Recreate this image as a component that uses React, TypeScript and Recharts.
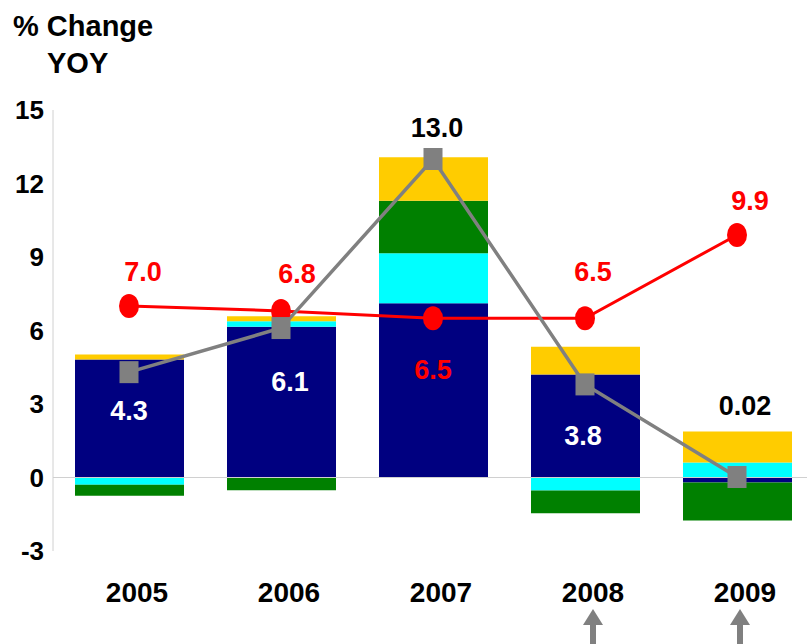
import {
  ComposedChart,
  Bar,
  Line,
  XAxis,
  YAxis,
  ReferenceLine,
  LabelList,
} from "recharts";

// ─── Data ──────────────────────────────────────────────────

const years = ["2005", "2006", "2007", "2008", "2009"];

// stacked components (stackOffset="sign": positives up, negatives down)
const navyPart = [4.82, 6.15, 7.11, 4.2, -0.2];
const cyanPart = [-0.3, 0.23, 2.04, -0.53, 0.61];
const greenPart = [-0.44, -0.52, 2.15, -0.93, -1.55];
const goldPart = [0.2, 0.2, 1.77, 1.14, 1.27];

// lines
const totalChange = [4.3, 6.1, 13.0, 3.8, 0.02];
const redSeries = [7.0, 6.8, 6.5, 6.5, 9.9];

const yTicks = [-3, 0, 3, 6, 9, 12, 15];

// label placement relative to the marker
const totalLabelOffset = [
  [0, 39],
  [9, 54],
  [4, -31],
  [-2, 52],
  [8, -71],
];
const totalLabelColor = ["#FFFFFF", "#FFFFFF", "#000000", "#FFFFFF", "#000000"];
const redLabelOffset = [
  [14, -34],
  [16, -37],
  [0, 52],
  [8, -46],
  [13, -34],
];
const arrowDx: Record<number, number> = { 3: 8, 4: 3 };

const data = years.map((year, i) => ({
  year,
  navy: navyPart[i],
  cyan: cyanPart[i],
  green: greenPart[i],
  gold: goldPart[i],
  total: totalChange[i],
  red: redSeries[i],
}));

const FONT = "'Liberation Sans', Arial, sans-serif";

const fmt = (v: number) =>
  Math.abs(v * 10 - Math.round(v * 10)) < 1e-9 ? v.toFixed(1) : String(v);

// ─── Custom renderers ──────────────────────────────────────

function YearTick(props: any) {
  const { x, y, payload, index } = props;
  const adx = arrowDx[index];
  return (
    <g>
      <text
        x={x + 8}
        y={y + 51}
        textAnchor="middle"
        fontFamily={FONT}
        fontWeight="bold"
        fontSize={28}
        fill="#000"
      >
        {payload.value}
      </text>
      {adx !== undefined && (
        <g fill="#808080">
          <polygon
            points={`${x + adx},${y + 58} ${x + adx - 10},${y + 74} ${x + adx + 10},${y + 74}`}
          />
          <rect x={x + adx - 3} y={y + 73} width={6} height={24} />
        </g>
      )}
    </g>
  );
}

function RedDot(props: any) {
  const { cx, cy } = props;
  if (cx == null || cy == null) return null;
  return <ellipse cx={cx} cy={cy} rx={10} ry={12} fill="#FF0000" />;
}

function GrayDot(props: any) {
  const { cx, cy } = props;
  if (cx == null || cy == null) return null;
  return <rect x={cx - 9.5} y={cy - 11} width={19} height={22} fill="#808080" />;
}

function TotalLabel(props: any) {
  const { x, y, value, index } = props;
  const [dx, dy] = totalLabelOffset[index];
  return (
    <text
      x={x + dx}
      y={y + dy}
      textAnchor="middle"
      dominantBaseline="central"
      fontFamily={FONT}
      fontWeight="bold"
      fontSize={27}
      fill={totalLabelColor[index]}
    >
      {fmt(value)}
    </text>
  );
}

function RedLabel(props: any) {
  const { x, y, value, index } = props;
  const [dx, dy] = redLabelOffset[index];
  return (
    <text
      x={x + dx}
      y={y + dy}
      textAnchor="middle"
      dominantBaseline="central"
      fontFamily={FONT}
      fontWeight="bold"
      fontSize={27}
      fill="#FF0000"
    >
      {fmt(value)}
    </text>
  );
}

// ─── Chart ─────────────────────────────────────────────────

export default function App() {
  return (
    <div
      style={{
        position: "fixed",
        left: 0,
        top: 0,
        width: 807,
        height: 644,
        overflow: "hidden",
        background: "#fff",
      }}
    >
      <div
        style={{
          position: "absolute",
          left: 13,
          top: 11.5,
          fontFamily: FONT,
          fontWeight: "bold",
          fontSize: 29,
          lineHeight: 1,
          whiteSpace: "nowrap",
        }}
      >
        % Change
      </div>
      <div
        style={{
          position: "absolute",
          left: 47,
          top: 48.5,
          fontFamily: FONT,
          fontWeight: "bold",
          fontSize: 29,
          lineHeight: 1,
        }}
      >
        YOY
      </div>
      <ComposedChart
        width={814}
        height={644}
        data={data}
        stackOffset="sign"
        margin={{ top: 110, right: 1, left: 0, bottom: 0 }}
      >
        <XAxis
          dataKey="year"
          height={93}
          axisLine={false}
          tickLine={false}
          tickSize={0}
          tickMargin={0}
          tick={<YearTick />}
          interval={0}
        />
        <YAxis
          width={53}
          domain={[-3, 15]}
          ticks={yTicks}
          interval={0}
          axisLine={{ stroke: "#D0D0D0", strokeWidth: 1 }}
          tickLine={false}
          tickSize={0}
          tickMargin={9}
          tick={{
            fontFamily: FONT,
            fontWeight: "bold",
            fontSize: 26,
            fill: "#000",
          }}
        />
        <ReferenceLine y={0} stroke="#D0D0D0" strokeWidth={1} />
        <Bar dataKey="navy" stackId="a" fill="#000080" barSize={109} isAnimationActive={false} />
        <Bar dataKey="cyan" stackId="a" fill="#00FFFF" barSize={109} isAnimationActive={false} />
        <Bar dataKey="green" stackId="a" fill="#008000" barSize={109} isAnimationActive={false} />
        <Bar dataKey="gold" stackId="a" fill="#FFCC00" barSize={109} isAnimationActive={false} />
        <Line
          type="linear"
          dataKey="red"
          stroke="#FF0000"
          strokeWidth={3}
          dot={<RedDot />}
          activeDot={false}
          isAnimationActive={false}
        >
          <LabelList dataKey="red" content={<RedLabel />} />
        </Line>
        <Line
          type="linear"
          dataKey="total"
          stroke="#808080"
          strokeWidth={3.5}
          dot={<GrayDot />}
          activeDot={false}
          isAnimationActive={false}
        >
          <LabelList dataKey="total" content={<TotalLabel />} />
        </Line>
      </ComposedChart>
    </div>
  );
}
